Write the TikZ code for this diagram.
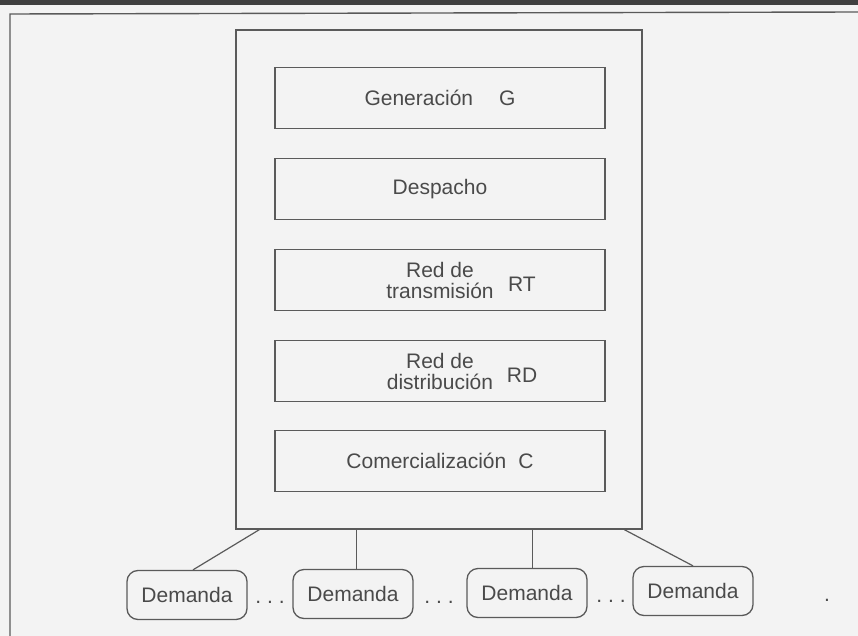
\documentclass[tikz,border=0pt]{standalone}
\usepackage{fontspec}
\setmainfont{Liberation Sans}
\usetikzlibrary{calc}
\definecolor{ink}{HTML}{4A4A4A}
\definecolor{linec}{HTML}{5A5A5A}
\definecolor{paper}{HTML}{F3F3F3}
\begin{document}
\begin{tikzpicture}[x=1pt,y=-1pt,
  layerbox/.style={draw=linec,line width=1.3pt,minimum width=330pt,minimum height=61pt,
    inner sep=0pt,align=center,text=ink,font=\fontsize{21}{21}\selectfont},
  outerbox/.style={draw=linec,line width=1.3pt,minimum width=406pt,minimum height=499pt,inner sep=0pt},
  dembox/.style={draw=linec,line width=1.3pt,rounded corners=11pt,minimum width=120pt,minimum height=49pt,
    inner sep=0pt,text=ink,font=\fontsize{21}{23}\selectfont},
  tag/.style={text=ink,font=\fontsize{21}{21}\selectfont,inner sep=0pt},
  conn/.style={draw=linec,line width=1.2pt},
  dotsnode/.style={text=ink,font=\fontsize{21}{23}\selectfont,inner sep=0pt}]
\useasboundingbox (0,0) rectangle (858,636);
\fill[paper] (0,0) rectangle (858,636);
\fill[black!75] (0,0) rectangle (858,5);
\draw[linec,line width=1.4pt] (858,12) -- (10,14) -- (10,636);

\node[outerbox] (big) at (439,279.5) {};
\node[layerbox] (gen) at (440,98) {Generación\hspace{26pt}G};
\node[layerbox] (desp) at (440,189) {Despacho};
\node[layerbox] (rt) at (440,280) {Red de\\transmisión};
\node[tag] (rtl) at ($(rt.center)+(82,4)$) {RT};
\node[layerbox] (rd) at (440,371) {Red de\\distribución};
\node[tag] (rdl) at ($(rd.center)+(82,4)$) {RD};
\node[layerbox] (com) at (440,461) {Comercialización\hspace{12pt}C};

\node[dembox] (d1) at (187,595) {Demanda};
\node[dembox] (d2) at (353,594) {Demanda};
\node[dembox] (d3) at (527,593) {Demanda};
\node[dembox] (d4) at (693,591) {Demanda};

\node[dotsnode,anchor=base] (p1) at (270,603) {.\hspace{6pt}.\hspace{6pt}.};
\node[dotsnode,anchor=base] (p2) at (439,603) {.\hspace{6pt}.\hspace{6pt}.};
\node[dotsnode,anchor=base] (p3) at (611,602) {.\hspace{6pt}.\hspace{6pt}.};
\node[dotsnode,anchor=base] (stray) at (827,601) {.};

\coordinate (c1) at ($(big.south west)+(24,0)$);
\coordinate (c2) at ($(big.south west)+(121,0)$);
\coordinate (c3) at ($(big.south west)+(297,0)$);
\coordinate (c4) at ($(big.south west)+(389,0)$);
\draw[conn] (c1) -- ([xshift=6pt]d1.north);
\draw[conn] (c2) -- (c2 |- d2.north);
\draw[conn] (c3) -- (c3 |- d3.north);
\draw[conn] (c4) -- (d4.north);
\end{tikzpicture}
\end{document}
